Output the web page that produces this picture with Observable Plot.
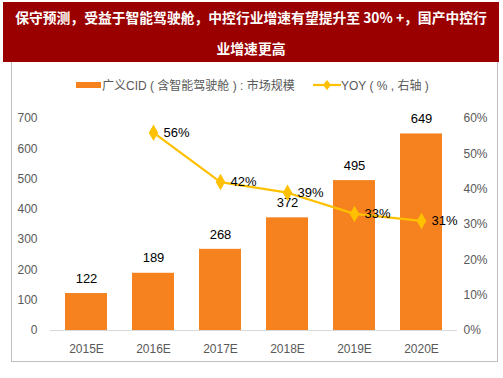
<!DOCTYPE html>
<html><head><meta charset="utf-8">
<script src="https://cdn.jsdelivr.net/npm/d3@7"></script>
<script src="https://cdn.jsdelivr.net/npm/@observablehq/plot@0.6"></script>
<style>
body{margin:0;background:#fff;font-family:"Liberation Sans",Arial,sans-serif;}
#wrap{position:relative;width:503px;height:378px;overflow:hidden;}
#title{position:absolute;left:3px;top:2px;width:496px;height:60px;background:#9b0000;color:#fff;
 font-family:"Noto Sans CJK SC",sans-serif;font-weight:bold;font-size:13.8px;text-align:center;line-height:31px;}
#frame{position:absolute;left:11px;top:62px;width:485px;height:299px;border:1px solid #bfbfbf;border-top:none;}
#legend{position:absolute;top:76px;left:0;width:503px;height:18px;font-size:12px;color:#595959;font-family:"Liberation Sans","Noto Sans CJK SC",sans-serif;}
#legend span{position:absolute;top:0;white-space:pre;}
#chart{position:absolute;left:0;top:62px;}
</style></head>
<body><div id="wrap">
<div id="frame"></div>
<div id="title"></div>
<div id="legend"></div>
<div id="chart"></div>
</div>
<script>
const titleLines = ["保守预测，受益于智能驾驶舱，中控行业增速有望提升至  30% +，国产中控行", "业增速更高"];
const years = ["2015E","2016E","2017E","2018E","2019E","2020E"];
const market = [122,189,268,372,495,649];
const yoyYears = ["2016E","2017E","2018E","2019E","2020E"];
const yoy = [56,42,39,33,31];
const leftTicks = [0,100,200,300,400,500,600,700];
const rightTicks = [0,10,20,30,40,50,60];
const seriesNames = ["广义CID ( 含智能驾驶舱 ) : 市场规模","YOY ( % , 右轴 )"];

const barColor = "#F5821F", lineColor = "#FFC000";
document.getElementById("title").innerHTML = titleLines.join("<br>");

const leftMax = 700, rightMax = 60;
const toLeft = v => v * leftMax / rightMax;

const bars = years.map((y,i)=>({year:y, value:market[i]}));
const line = yoyYears.map((y,i)=>({year:y, pct:yoy[i], yv:toLeft(yoy[i])}));

const chart = Plot.plot({
  width:503, height:306,
  marginTop:56, marginBottom:38, marginLeft:50, marginRight:46,
  style:{fontFamily:'"Liberation Sans",Arial,sans-serif', fontSize:"12px", color:"#595959", background:"transparent"},
  x:{domain:years, paddingInner:0.38, paddingOuter:0.19, label:null},
  y:{domain:[0,leftMax], label:null},
  marks:[
    Plot.axisY({ticks:leftTicks, tickSize:0, tickPadding:13, label:null, fontSize:12, fill:"#595959"}),
    Plot.axisY({anchor:"right", ticks:rightTicks.map(toLeft), tickFormat:d=>Math.round(d*rightMax/leftMax)+"%", tickSize:0, tickPadding:6, label:null, fontSize:12, fill:"#595959"}),
    Plot.axisX({tickSize:0, tickPadding:14, label:null, fontSize:12, fill:"#595959"}),
    Plot.barY(bars,{x:"year", y:"value", fill:barColor}),
    Plot.ruleY([0],{stroke:"#d9d9d9", strokeWidth:1}),
    Plot.text(bars,{x:"year", y:"value", text:d=>String(d.value), dy:-15, fill:"#000", fontSize:13}),
    Plot.line(line,{x:"year", y:"yv", stroke:lineColor, strokeWidth:2.2}),
    Plot.dot(line,{x:"year", y:"yv", symbol:"diamond", r:5, fill:lineColor, stroke:null}),
    Plot.text(line,{x:"year", y:"yv", text:d=>d.pct+"%", dx:10, textAnchor:"start", fill:"#000", fontSize:13})
  ]
});
document.getElementById("chart").appendChild(chart);

const lg = document.getElementById("legend");
lg.innerHTML = `
<svg style="position:absolute;left:76px;top:6px" width="25" height="7"><rect width="25" height="6" fill="${barColor}"/></svg>
<span style="left:102px">${seriesNames[0]}</span>
<svg style="position:absolute;left:313px;top:2px" width="28" height="14"><line x1="0" x2="28" y1="7" y2="7" stroke="${lineColor}" stroke-width="2.2"/><path d="M14,2 L18,7 L14,12 L10,7Z" fill="${lineColor}"/></svg>
<span style="left:341px">${seriesNames[1]}</span>`;
</script>
</body></html>
